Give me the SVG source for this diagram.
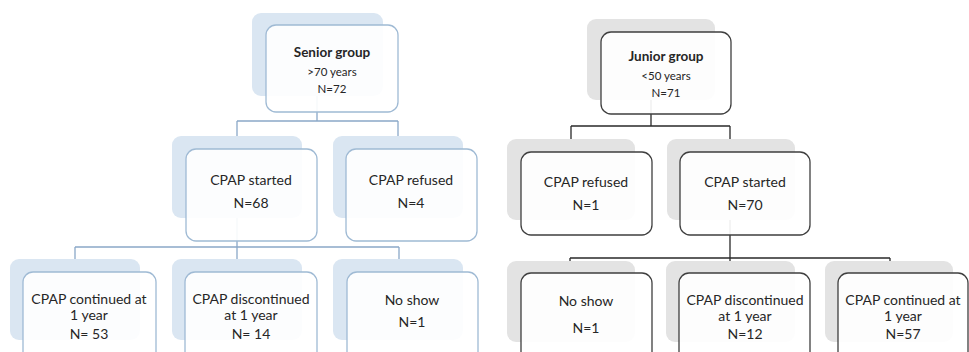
<svg xmlns="http://www.w3.org/2000/svg" width="969" height="352" viewBox="0 0 969 352">
<style>
.bg{fill:#ffffff}
.sh-s{fill:#dae6f2}
.sh-j{fill:#e3e3e3}
.bx-s{fill:#ffffff;fill-opacity:0.92;stroke:#9fbad4;stroke-width:1.3}
.bx-j{fill:#ffffff;fill-opacity:0.92;stroke:#3f3f3f;stroke-width:1.3}
.c-s{stroke:#8aa8c8;stroke-width:1.3;fill:none}
.c-j{stroke:#2a2a2a;stroke-width:1.3;fill:none}
text{font-family:Lato,"Open Sans","Liberation Sans",sans-serif;fill:#262626;text-anchor:middle}
.t{font-size:14px}
.h{font-size:13.5px;font-weight:bold}
.s{font-size:11.5px}
</style>
<rect class="bg" x="0" y="0" width="969" height="352"/>
<g id="connectors">
<path class="c-s" d="M317 96V121M237 121H398M237 121V136M398 121V136"/>
<path class="c-s" d="M237 218V247M75 247H399M75 247V259M237 247V259M399 247V259"/>
<path class="c-j" d="M651 100V126M571 126H730M571 126V139M730 126V139"/>
<path class="c-j" d="M730 220V258M570 258H890M570 258V261M730 258V261M890 258V261"/>
</g>
<g id="senior-group">
<rect class="sh-s" x="252" y="13" width="131" height="83" rx="9"/>
<rect class="bx-s" x="266" y="25" width="132" height="87" rx="10"/>
<text class="h" x="332" y="57">Senior group</text>
<text class="s" x="332" y="76">&gt;70 years</text>
<text class="s" x="332" y="93">N=72</text>
</g>
<g id="senior-started">
<rect class="sh-s" x="172" y="136" width="130" height="82" rx="9"/>
<rect class="bx-s" x="186" y="149" width="131" height="92" rx="10"/>
<text class="t" x="251" y="185">CPAP started</text>
<text class="t" x="251" y="208">N=68</text>
</g>
<g id="senior-refused">
<rect class="sh-s" x="333" y="136" width="130" height="82" rx="9"/>
<rect class="bx-s" x="346" y="149" width="131" height="92" rx="10"/>
<text class="t" x="411" y="185">CPAP refused</text>
<text class="t" x="411" y="208">N=4</text>
</g>
<g id="senior-continued">
<rect class="sh-s" x="10" y="259" width="130" height="81" rx="9"/>
<rect class="bx-s" x="23" y="272" width="133" height="92" rx="10"/>
<text class="t" x="89" y="304">CPAP continued at</text>
<text class="t" x="89" y="320">1 year</text>
<text class="t" x="89" y="339">N= 53</text>
</g>
<g id="senior-discontinued">
<rect class="sh-s" x="172" y="259" width="130" height="81" rx="9"/>
<rect class="bx-s" x="185" y="272" width="132" height="92" rx="10"/>
<text class="t" x="251" y="304">CPAP discontinued</text>
<text class="t" x="251" y="320">at 1 year</text>
<text class="t" x="251" y="339">N= 14</text>
</g>
<g id="senior-noshow">
<rect class="sh-s" x="333" y="259" width="130" height="81" rx="9"/>
<rect class="bx-s" x="347" y="272" width="131" height="92" rx="10"/>
<text class="t" x="412" y="305">No show</text>
<text class="t" x="412" y="327">N=1</text>
</g>
<g id="junior-group">
<rect class="sh-j" x="587" y="19" width="128" height="81" rx="9"/>
<rect class="bx-j" x="601" y="32" width="130" height="82" rx="10"/>
<text class="h" x="666" y="61">Junior group</text>
<text class="s" x="666" y="80">&lt;50 years</text>
<text class="s" x="666" y="97">N=71</text>
</g>
<g id="junior-refused">
<rect class="sh-j" x="507" y="139" width="128" height="81" rx="9"/>
<rect class="bx-j" x="521" y="152" width="131" height="83" rx="10"/>
<text class="t" x="586" y="187">CPAP refused</text>
<text class="t" x="586" y="210">N=1</text>
</g>
<g id="junior-started">
<rect class="sh-j" x="667" y="139" width="128" height="81" rx="9"/>
<rect class="bx-j" x="680" y="152" width="130" height="83" rx="10"/>
<text class="t" x="745" y="187">CPAP started</text>
<text class="t" x="745" y="210">N=70</text>
</g>
<g id="junior-noshow">
<rect class="sh-j" x="507" y="261" width="128" height="81" rx="9"/>
<rect class="bx-j" x="521" y="273" width="131" height="92" rx="10"/>
<text class="t" x="586" y="306">No show</text>
<text class="t" x="586" y="333">N=1</text>
</g>
<g id="junior-discontinued">
<rect class="sh-j" x="666" y="261" width="129" height="81" rx="9"/>
<rect class="bx-j" x="679" y="273" width="131" height="92" rx="10"/>
<text class="t" x="745" y="305">CPAP discontinued</text>
<text class="t" x="745" y="321">at 1 year</text>
<text class="t" x="745" y="339">N=12</text>
</g>
<g id="junior-continued">
<rect class="sh-j" x="825" y="261" width="128" height="81" rx="9"/>
<rect class="bx-j" x="838" y="273" width="130" height="92" rx="10"/>
<text class="t" x="903" y="305">CPAP continued at</text>
<text class="t" x="903" y="321">1 year</text>
<text class="t" x="903" y="339">N=57</text>
</g>
</svg>
